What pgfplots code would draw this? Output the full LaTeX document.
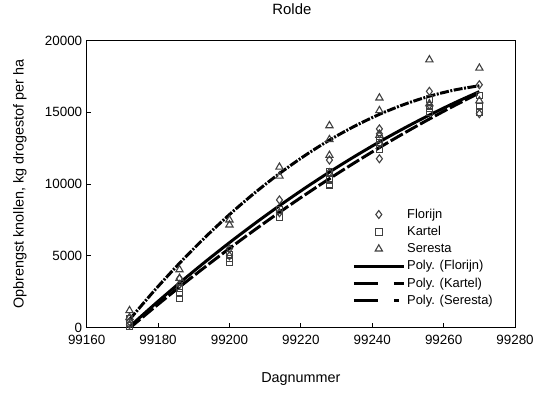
\documentclass[border=0pt]{standalone}
\usepackage{pgfplots}
\pgfplotsset{compat=1.18}
\usepackage{fontspec}
\setmainfont{Liberation Sans}
\definecolor{mk}{HTML}{404040}
\pgfplotsset{
  markleg/.style={legend image code/.code={\draw[##1] plot coordinates {(25bp,0bp)};}},
  lineleg/.style={legend image code/.code={\draw[##1] (0bp,0bp) -- (50bp,0bp);}},
}
\begin{document}
\begin{tikzpicture}
\begin{axis}[
  scale only axis, width=430bp, height=288bp,
  xmin=99160, xmax=99280, ymin=0, ymax=20000,
  xtick={99160,99180,...,99280}, ytick={0,5000,...,20000},
  xtick pos=bottom, ytick pos=left,
  /pgf/number format/assume math mode=true,
  /pgf/number format/1000 sep={},
  scaled ticks=false,
  tick label style={font=\fontsize{13.5}{15}\selectfont},
  xticklabel style={yshift=-4bp},
  yticklabel style={xshift=-1bp},
  axis line style={line width=0.9pt},
  tick style={black, line width=0.8pt},
  major tick length=4bp,
  tick align=inside,
  title={Rolde},
  title style={font=\fontsize{15}{17}\selectfont, at={(axis description cs:0.479,1.09)}, anchor=center},
  xlabel={Dagnummer},
  ylabel={Opbrengst knollen, kg drogestof per ha},
  every axis x label/.style={at={(axis description cs:0.5,-0.18)}, anchor=center, font=\fontsize{14.5}{16}\selectfont},
  every axis y label/.style={at={(axis description cs:-0.156,0.5)}, rotate=90, anchor=center, font=\fontsize{14.5}{16}\selectfont},
  legend style={draw=none, fill=none, at={(0.96,0.06)}, anchor=south east,
    font=\fontsize{13}{15}\selectfont, row sep=2.5bp,
    /tikz/every even column/.append style={column sep=2bp}},
  legend cell align=left,
  lineleg,
]
\addplot[only marks, mark=diamond, mark size=4bp, mk, line width=1.1pt, markleg] coordinates {
(99172,400) (99172,200)
(99186,3000) (99186,3400)
(99200,5500) (99200,5000)
(99214,8890) (99214,8000)
(99228,11670) (99228,10800)
(99242,13840) (99242,13500) (99242,12800) (99242,11760)
(99256,16460) (99256,15500)
(99270,16920) (99270,14900)
};
\addlegendentry{Florijn}
\addplot[only marks, mark=square, mark size=3.3bp, mk, line width=1.1pt, markleg] coordinates {
(99172,300) (99172,600) (99172,100)
(99186,2730) (99186,2030) (99186,2400)
(99200,5070) (99200,4580) (99200,4800)
(99214,7710) (99214,8200)
(99228,10830) (99228,9950) (99228,10300)
(99242,13150) (99242,12450) (99242,12900)
(99256,15920) (99256,15300) (99256,15000)
(99270,16160) (99270,15000) (99270,15400)
};
\addlegendentry{Kartel}
\addplot[only marks, mark=triangle, mark size=4.2bp, mk, line width=1.1pt, markleg] coordinates {
(99172,1180) (99172,700)
(99186,4030) (99186,3430)
(99200,7500) (99200,7150)
(99214,11180) (99214,10560)
(99228,14070) (99228,13100) (99228,12000)
(99242,16000) (99242,15120) (99242,13400)
(99256,18660) (99256,15600)
(99270,18080) (99270,15800)
};
\addlegendentry{Seresta}
% trend lines
\addplot[black, line width=3pt, smooth, forget plot] coordinates {
(99172,50) (99179,1604) (99186,3099) (99193,4534) (99200,5912) (99207,7229)
(99214,8488) (99221,9688) (99228,10830) (99235,11912) (99242,12936)
(99249,13900) (99256,14805) (99263,15652) (99270,16440)
};
\addplot[black, line width=3pt, smooth, dash pattern=on 14bp off 3bp, forget plot] coordinates {
(99172,-50) (99179,1405) (99186,2817) (99193,4185) (99200,5510) (99207,6790)
(99214,8027) (99221,9221) (99228,10370) (99235,11476) (99242,12539)
(99249,13557) (99256,14531) (99263,15463) (99270,16350)
};
\addplot[black, line width=3pt, smooth, dash pattern=on 9bp off 1.5bp on 2bp off 1.5bp, forget plot] coordinates {
(99172,550) (99179,2580) (99186,4476) (99193,6240) (99200,7870) (99207,9367)
(99214,10731) (99221,11962) (99228,13060) (99235,14024) (99242,14856)
(99249,15554) (99256,16119) (99263,16551) (99270,16850)
};
\addlegendimage{black, line width=3pt}
\addlegendentry{Poly. (Florijn)}
\addlegendimage{black, line width=3pt, dash pattern=on 24bp off 16bp}
\addlegendentry{Poly. (Kartel)}
\addlegendimage{black, line width=3pt, dash pattern=on 24bp off 16bp on 5bp off 16bp}
\addlegendentry{Poly. (Seresta)}
\end{axis}
\path ([xshift=-87bp,yshift=-66bp]current axis.south west) rectangle ([xshift=20bp,yshift=38bp]current axis.north east);
\end{tikzpicture}
\end{document}
